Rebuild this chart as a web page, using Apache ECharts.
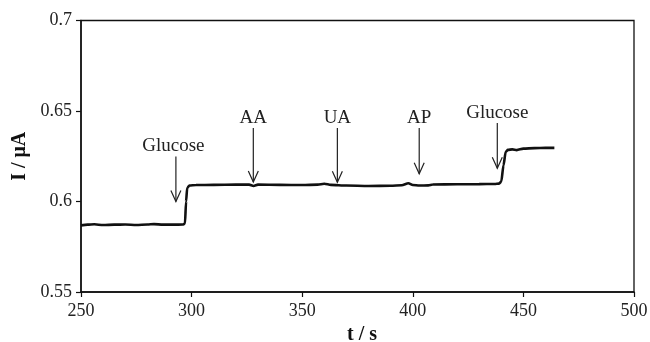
<!DOCTYPE html>
<html>
<head>
<meta charset="utf-8">
<script src="https://cdn.jsdelivr.net/npm/echarts@6/dist/echarts.min.js"></script>
<style>
  html, body { margin: 0; padding: 0; background: #fff; }
  #chart { width: 650px; height: 342px; }
</style>
</head>
<body>
<div id="chart"></div>
<script>
// Amperometric response: time (s) and current (µA)
const times = [250, 253, 256, 260, 265, 270, 275, 280, 283, 287, 292, 296, 297, 297.5, 298, 299,
  302, 310, 320, 326, 328, 330, 340, 350, 357, 360, 363, 370, 380, 390, 395, 398, 400, 403, 407,
  409, 420, 430, 437, 439, 440, 441, 442, 443, 445, 447, 450, 455, 460, 464];
const current = [0.5868, 0.5872, 0.5874, 0.5870, 0.5872, 0.5873, 0.5870, 0.5873, 0.5875, 0.5872,
  0.5872, 0.5873, 0.5878, 0.6000, 0.6075, 0.6088, 0.6091, 0.6092, 0.6093, 0.6093, 0.6086, 0.6093,
  0.6092, 0.6091, 0.6093, 0.6098, 0.6092, 0.6088, 0.6086, 0.6087, 0.6090, 0.6101, 0.6091, 0.6088,
  0.6089, 0.6094, 0.6095, 0.6096, 0.6097, 0.6099, 0.6110, 0.6200, 0.6275, 0.6285, 0.6288, 0.6284,
  0.6292, 0.6295, 0.6296, 0.6296];

// Injection events: name, time, arrow start and arrow tip (current axis units)
const eventNames = ['Glucose', 'AA', 'UA', 'AP', 'Glucose'];
const eventTimes = [292.9, 327.9, 365.9, 402.9, 438.2];
const arrowTops = [0.6249, 0.6406, 0.6406, 0.6406, 0.6434];
const arrowTips = [0.6000, 0.6108, 0.6106, 0.6153, 0.6184];

const xTicks = [250, 300, 350, 400, 450, 500];
const yTicks = [0.55, 0.6, 0.65, 0.7];

const serif = '"Liberation Serif", "Times New Roman", serif';
const chart = echarts.init(document.getElementById('chart'), null, { renderer: 'canvas' });

chart.setOption({
  backgroundColor: '#fff',
  animation: false,
  grid: {
    left: 81, right: 16, top: 20.5, bottom: 50,
    outerBoundsMode: 'none',
    show: true, borderColor: '#111', borderWidth: 1.3, backgroundColor: 'transparent'
  },
  xAxis: {
    type: 'value',
    min: xTicks[0], max: xTicks[xTicks.length - 1], interval: 50,
    name: 't / s', nameLocation: 'middle', nameGap: 32,
    nameTextStyle: { fontFamily: serif, fontWeight: 'bold', fontSize: 20, color: '#111', padding: [0, 0, 0, 9] },
    axisLine: { show: true, lineStyle: { color: '#111', width: 1.5 } },
    axisTick: { show: true, inside: false, length: 5, lineStyle: { color: '#111', width: 1.2 } },
    axisLabel: { fontFamily: serif, fontSize: 18, color: '#222', margin: 10 },
    splitLine: { show: false }
  },
  yAxis: {
    type: 'value',
    min: yTicks[0], max: yTicks[yTicks.length - 1], interval: 0.05,
    name: 'I / μA', nameLocation: 'middle', nameGap: 48,
    nameTextStyle: { fontFamily: serif, fontWeight: 'bold', fontSize: 20, color: '#111' },
    axisLine: { show: true, lineStyle: { color: '#111', width: 1.5 } },
    axisTick: { show: true, inside: false, length: 5, lineStyle: { color: '#111', width: 1.2 } },
    axisLabel: { fontFamily: serif, fontSize: 18, color: '#222', margin: 9,
      formatter: v => String(+v.toFixed(2)) },
    splitLine: { show: false }
  },
  series: [
    {
      type: 'line',
      data: times.map((t, i) => [t, current[i]]),
      showSymbol: false,
      smooth: 0.25,
      smoothMonotone: 'x',
      lineStyle: { color: '#111', width: 2.6 },
      z: 3
    },
    {
      type: 'custom',
      data: eventTimes.map((t, i) => [t, arrowTops[i], arrowTips[i]]),
      renderItem: function (params, api) {
        const top = api.coord([api.value(0), api.value(1)]);
        const tip = api.coord([api.value(0), api.value(2)]);
        const dx = params.dataIndex === 0 ? -2.5 : 0;
        return {
          type: 'group',
          children: [
            { type: 'line',
              shape: { x1: top[0], y1: top[1], x2: tip[0], y2: tip[1] },
              style: { stroke: '#222', lineWidth: 1.2 } },
            { type: 'polyline',
              shape: { points: [[tip[0] - 5, tip[1] - 11], [tip[0], tip[1]], [tip[0] + 5, tip[1] - 11]] },
              style: { stroke: '#222', fill: null, lineWidth: 1.2 } },
            { type: 'text', x: top[0] + dx, y: top[1] - 10,
              style: { text: eventNames[params.dataIndex], fontFamily: serif, fontSize: 19,
                fill: '#222', align: 'center', verticalAlign: 'middle' } }
          ]
        };
      },
      z: 4
    }
  ]
});
</script>
</body>
</html>
